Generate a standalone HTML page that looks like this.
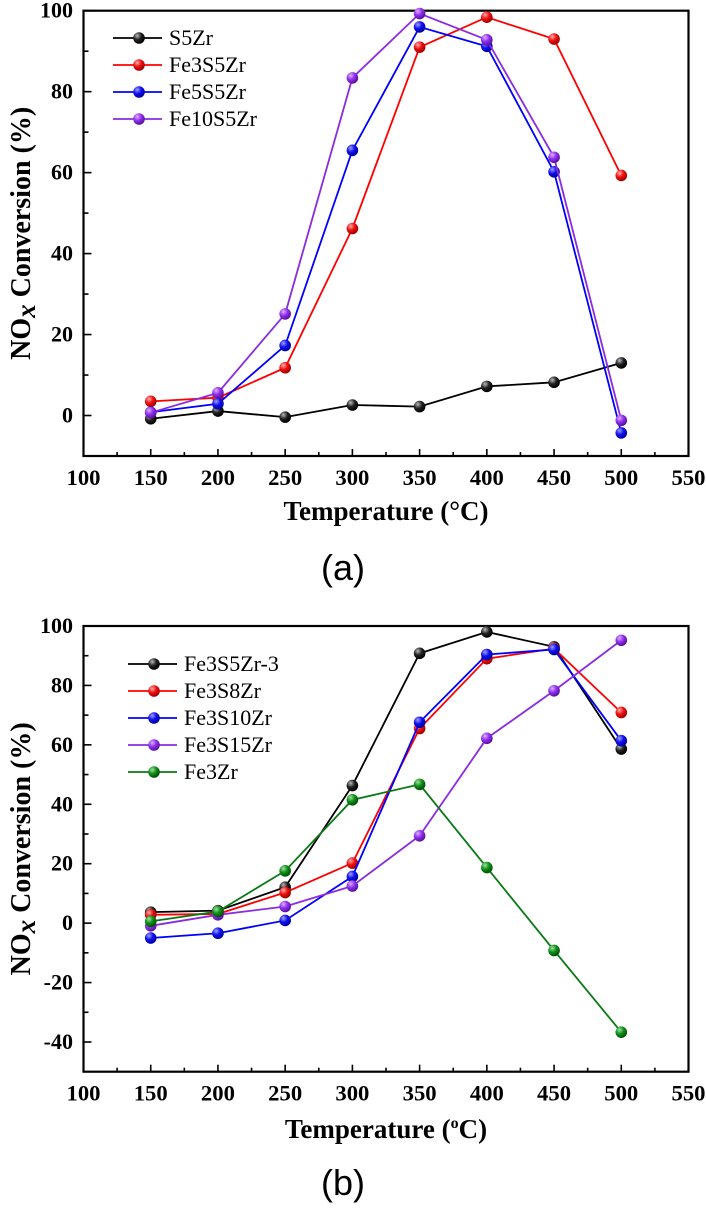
<!DOCTYPE html>
<html><head><meta charset="utf-8">
<style>
html,body{margin:0;padding:0;background:#fff;}
svg{display:block;}
</style></head>
<body>
<svg id="root" width="706" height="1208" viewBox="0 0 706 1208" xmlns="http://www.w3.org/2000/svg" font-family="Liberation Serif, serif">
<defs>
  <radialGradient id="g-black" cx="0.35" cy="0.3" r="0.7"><stop offset="0" stop-color="#bbb"/><stop offset="0.5" stop-color="#222"/><stop offset="1" stop-color="#000"/></radialGradient>
  <radialGradient id="g-red" cx="0.35" cy="0.3" r="0.7"><stop offset="0" stop-color="#ffb0b0"/><stop offset="0.5" stop-color="#f01010"/><stop offset="1" stop-color="#a00000"/></radialGradient>
  <radialGradient id="g-blue" cx="0.35" cy="0.3" r="0.7"><stop offset="0" stop-color="#a0a0ff"/><stop offset="0.5" stop-color="#1010f0"/><stop offset="1" stop-color="#0000a0"/></radialGradient>
  <radialGradient id="g-purple" cx="0.35" cy="0.3" r="0.7"><stop offset="0" stop-color="#e0b0ff"/><stop offset="0.5" stop-color="#9030ee"/><stop offset="1" stop-color="#5a10a0"/></radialGradient>
  <radialGradient id="g-green" cx="0.35" cy="0.3" r="0.7"><stop offset="0" stop-color="#a0e0a0"/><stop offset="0.5" stop-color="#10901a"/><stop offset="1" stop-color="#005000"/></radialGradient>
</defs>
</svg>
<script>
// ---------- data ----------
const temps = [150,200,250,300,350,400,450,500];
const xTicks = [100,150,200,250,300,350,400,450,500,550];
const yTicksA = [0,20,40,60,80,100];
const yTicksB = [-40,-20,0,20,40,60,80,100];
const namesA = ["S5Zr","Fe3S5Zr","Fe5S5Zr","Fe10S5Zr"];
const s5zr = [-0.8,1.1,-0.4,2.6,2.2,7.2,8.2,13.0];
const fe3s5zr = [3.5,4.4,11.8,46.2,91.0,98.4,93.0,59.3];
const fe5s5zr = [0.8,2.9,17.3,65.5,96.0,91.2,60.2,-4.3];
const fe10s5zr = [0.7,5.6,25.1,83.4,99.3,92.8,63.8,-1.2];
const namesB = ["Fe3S5Zr-3","Fe3S8Zr","Fe3S10Zr","Fe3S15Zr","Fe3Zr"];
const fe3s5zr3 = [3.7,4.2,12.1,46.3,90.8,98.0,93.0,58.6];
const fe3s8zr = [2.8,3.1,10.3,20.2,65.5,89.0,92.4,70.9];
const fe3s10zr = [-5.0,-3.4,0.9,15.7,67.6,90.4,92.1,61.4];
const fe3s15zr = [-0.9,2.8,5.6,12.5,29.4,62.2,78.2,95.2];
const fe3zr = [0.6,3.9,17.6,41.5,46.7,18.7,-9.2,-36.7];

const NS="http://www.w3.org/2000/svg";
const root=document.getElementById('root');
function mk(tag,attrs,parent,txt){const e=document.createElementNS(NS,tag);for(const k in attrs)e.setAttribute(k,attrs[k]);if(txt!==undefined)e.textContent=txt;(parent||root).appendChild(e);return e;}

function chart(cfg){
  const g=mk('g',{});
  
  
  const L=83.5,R=688.5,T=cfg.top,B=cfg.bottom;
  const xs=v=>L+(v-100)/450*(R-L);
  const ys=v=>T+(cfg.ymax-v)/(cfg.ymax-cfg.ymin)*(B-T);
  const fr=mk('rect',{x:L,y:T,width:R-L,height:B-T,fill:'none',stroke:'#000','stroke-width':2.2},g);
  
  
  for(let v=100;v<=550;v+=25){
    const major=(v%50===0);
    const t=mk('line',{x1:xs(v),x2:xs(v),y1:B,y2:B-(major?7:4),stroke:'#000','stroke-width':1.6},g);
    
    
  }
  xTicks.forEach(v=>{
    const t=mk('text',{x:xs(v),y:B+29,'text-anchor':'middle','font-size':22,'font-weight':'bold',textLength:34,lengthAdjust:'spacingAndGlyphs'},g,String(v));
    
    
  });
  for(let v=cfg.ymin;v<=cfg.ymax;v+=10){
    const major=(v%20===0);
    if(v===cfg.ymin&&!major)continue;
    const t=mk('line',{x1:L,x2:L+(major?8:5),y1:ys(v),y2:ys(v),stroke:'#000','stroke-width':1.6},g);
    
    
  }
  cfg.yTicks.forEach(v=>{
    const t=mk('text',{x:73,y:ys(v)+7,'text-anchor':'end','font-size':22,'font-weight':'bold'},g,String(v));
    
    
  });
  const yc=(T+B)/2;
  const yt=mk('text',{x:0,y:0,transform:`translate(30,${yc}) rotate(-90)`,'text-anchor':'middle','font-size':28,'font-weight':'bold'},g);
  
  
  mk('tspan',{},yt,'NO');
  mk('tspan',{dy:5,'font-style':'italic','font-size':27},yt,'x');
  mk('tspan',{dy:-5},yt,' Conversion (%)');
  const xt=mk('text',{x:386,y:cfg.xTitleY,'text-anchor':'middle','font-size':27,'font-weight':'bold'},g);
  
  
  if(cfg.sup){mk('tspan',{},xt,'Temperature (');mk('tspan',{dy:-10,'font-size':16},xt,'o');mk('tspan',{dy:10},xt,'C)');}
  else xt.textContent='Temperature (°C)';
  cfg.series.forEach((s,i)=>{
    const sg=mk('g',{},g);
    
    
    const pts=temps.map((t,j)=>xs(t)+','+ys(s.vals[j])).join(' ');
    const pl=mk('polyline',{points:pts,fill:'none',stroke:s.color,'stroke-width':1.8},sg);
    
    
    temps.forEach((t,j)=>{
      const c=mk('circle',{cx:xs(t),cy:ys(s.vals[j]),r:5.8,fill:`url(#${s.grad})`},sg);
      
      
    });
    const ly=cfg.legY+i*27;
    const lg=mk('g',{},g);
    
    
    mk('line',{x1:cfg.legX,x2:cfg.legX+49,y1:ly,y2:ly,stroke:s.color,'stroke-width':1.8},lg);
    mk('circle',{cx:cfg.legX+26,cy:ly,r:5.8,fill:`url(#${s.grad})`},lg);
    mk('text',{x:cfg.legX+56,y:ly+7,'font-size':22},lg,s.name);
  });
  const pl=mk('text',{x:343,y:cfg.panelY,'text-anchor':'middle','font-size':36,'font-family':'Liberation Sans, sans-serif'},g,cfg.panel);
  
  
}
chart({id:'chart-a',top:10.7,bottom:456,ymin:-10,ymax:100,yTicks:yTicksA,xTitleY:520,sup:false,legX:113,legY:38,panel:'(a)',panelY:580,
  series:[{name:namesA[0],vals:s5zr,color:'#000',grad:'g-black'},{name:namesA[1],vals:fe3s5zr,color:'#f00',grad:'g-red'},{name:namesA[2],vals:fe5s5zr,color:'#0000ff',grad:'g-blue'},{name:namesA[3],vals:fe10s5zr,color:'#8a2be2',grad:'g-purple'}]});
chart({id:'chart-b',top:626,bottom:1071.7,ymin:-50,ymax:100,yTicks:yTicksB,xTitleY:1138,sup:true,legX:128,legY:664,panel:'(b)',panelY:1195,
  series:[{name:namesB[0],vals:fe3s5zr3,color:'#000',grad:'g-black'},{name:namesB[1],vals:fe3s8zr,color:'#f00',grad:'g-red'},{name:namesB[2],vals:fe3s10zr,color:'#0000ff',grad:'g-blue'},{name:namesB[3],vals:fe3s15zr,color:'#8a2be2',grad:'g-purple'},{name:namesB[4],vals:fe3zr,color:'#0a7a14',grad:'g-green'}]});
</script>
</body></html>
